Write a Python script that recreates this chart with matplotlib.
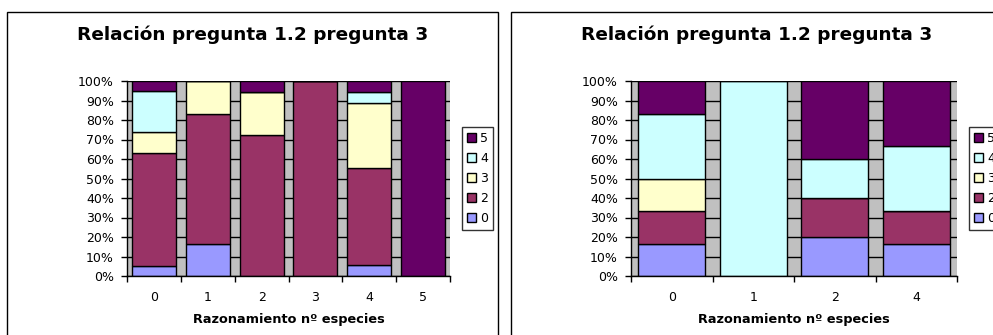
import matplotlib
matplotlib.use("Agg")
import matplotlib.pyplot as plt
import matplotlib.patches as mpatches
from matplotlib.ticker import FixedLocator, PercentFormatter
import numpy as np

plt.rcParams['font.family'] = ['DejaVu Sans']

# Response codes (series) and their colours
responses = ['0', '2', '3', '4', '5']
colors = ['#9999FF', '#993366', '#FFFFCC', '#CCFFFF', '#660066']

# Left chart: counts of each response per "Razonamiento nº especies" group
left_categories = ['0', '1', '2', '3', '4', '5']
left_r0 = [1, 1, 0, 0, 1, 0]
left_r2 = [11, 4, 13, 1, 9, 0]
left_r3 = [2, 1, 4, 0, 6, 0]
left_r4 = [4, 0, 0, 0, 1, 0]
left_r5 = [1, 0, 1, 0, 1, 1]

# Right chart
right_categories = ['0', '1', '2', '4']
right_r0 = [1, 0, 1, 1]
right_r2 = [1, 0, 1, 1]
right_r3 = [1, 0, 0, 0]
right_r4 = [2, 1, 1, 2]
right_r5 = [1, 0, 2, 2]

title = 'Relación pregunta 1.2 pregunta 3'
xlabel = 'Razonamiento nº especies'

W, H = 993, 335
fig = plt.figure(figsize=(W / 100, H / 100), dpi=100)
fig.patch.set_facecolor('white')


def px_axes(x0, x1, ytop, ybot):
    return fig.add_axes([x0 / W, 1 - ybot / H, (x1 - x0) / W, (ybot - ytop) / H])


def draw_chart(ax, cats, series, legend_xy, title_x):
    data = np.array(series, dtype=float)
    pct = data / data.sum(axis=0) * 100
    x = np.arange(len(cats))
    bottom = np.zeros(len(cats))
    handles = []
    for lab, col, vals in zip(responses, colors, pct):
        b = ax.bar(x, vals, width=0.82, bottom=bottom, color=col,
                   edgecolor='black', linewidth=1.0, zorder=3, label=lab)
        bottom += vals
        handles.append(b)
    ax.set_facecolor('#C0C0C0')
    ax.set_xlim(-0.5, len(cats) - 0.5)
    ax.set_ylim(0, 100)
    ax.set_yticks(np.arange(0, 101, 10))
    ax.yaxis.set_major_formatter(PercentFormatter(decimals=0))
    ax.grid(axis='y', color='black', linewidth=1.0, zorder=1)
    ax.set_axisbelow(True)
    ax.set_xticks(x)
    ax.set_xticklabels(cats)
    ax.xaxis.set_minor_locator(FixedLocator(np.arange(-0.5, len(cats), 1.0)))
    ax.tick_params(axis='x', which='major', length=0, pad=10.5, labelsize=9)
    ax.tick_params(axis='x', which='minor', length=4, width=1, direction='out')
    ax.tick_params(axis='y', length=4, width=1, direction='out', pad=5.5, labelsize=9)
    for s in ('top', 'right'):
        ax.spines[s].set_visible(False)
    for s in ('left', 'bottom'):
        ax.spines[s].set_linewidth(1.0)
        ax.spines[s].set_zorder(4)
    ax.set_xlabel(xlabel, fontsize=9.3, fontweight='bold', labelpad=7)
    fig.text(title_x / W, 1 - 35 / H, title, ha='center', va='center',
             fontsize=13.3, fontweight='bold')
    leg = fig.legend(handles[::-1], responses[::-1], loc='upper left',
                     bbox_to_anchor=(legend_xy[0] / W, 1 - legend_xy[1] / H),
                     fontsize=9, frameon=True, fancybox=False, edgecolor='black',
                     handlelength=0.75, handleheight=0.75, handletextpad=0.3,
                     labelspacing=0.55, borderpad=0.4, borderaxespad=0)
    leg.get_frame().set_linewidth(1.0)


ax1 = px_axes(127, 450, 81, 276)
draw_chart(ax1, left_categories, [left_r0, left_r2, left_r3, left_r4, left_r5],
           (462, 127), 253)

ax2 = px_axes(631, 957, 81, 276)
draw_chart(ax2, right_categories, [right_r0, right_r2, right_r3, right_r4, right_r5],
           (969, 127), 757)

# Chart-area frames
fig.patches.append(mpatches.Rectangle((7 / W, -0.1), (498 - 7) / W, 1.1 - 12 / H,
                                      transform=fig.transFigure, fill=False,
                                      edgecolor='black', linewidth=1.0))
fig.patches.append(mpatches.Rectangle((511 / W, -0.1), 0.6, 1.1 - 12 / H,
                                      transform=fig.transFigure, fill=False,
                                      edgecolor='black', linewidth=1.0))

fig.savefig('out.png', dpi=100)
